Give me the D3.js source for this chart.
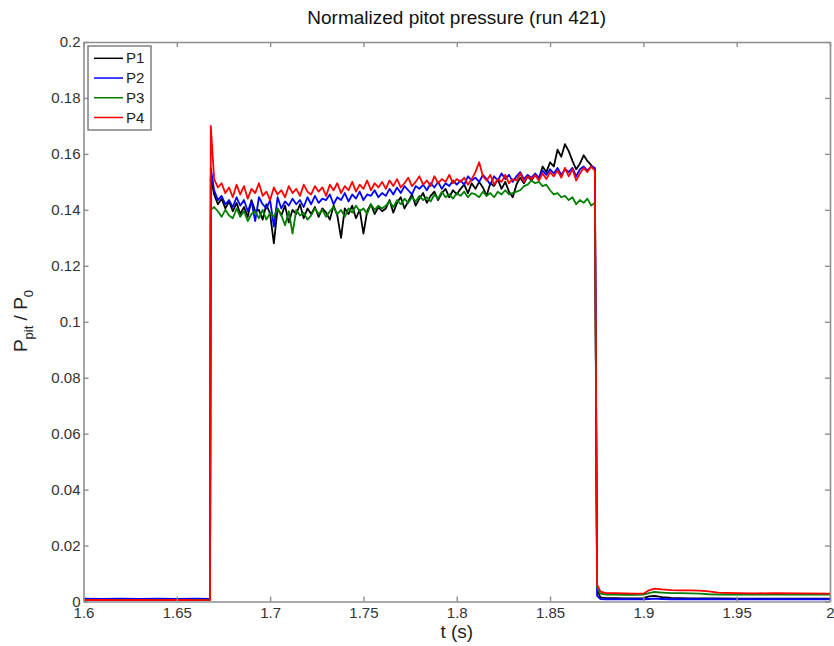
<!DOCTYPE html>
<html>
<head>
<meta charset="utf-8">
<script src="https://cdn.jsdelivr.net/npm/d3@7/dist/d3.min.js"></script>
<style>
  body { margin: 0; background: #fff; }
  text { font-family: "Liberation Sans", Arial, Helvetica, sans-serif; }
</style>
</head>
<body>
<svg id="chart" width="834" height="646"></svg>
<script>
// Sample times (s): baseline before the run, onset, steady flow, shutdown, tail
const time = [
  1.600,1.610,1.620,1.630,1.640,1.650,1.660,1.6678,
  1.6682,
  1.670,1.672,1.674,1.676,1.678,
  1.680,1.682,1.684,1.686,1.688,1.690,1.692,1.694,1.696,1.698,1.700,1.702,1.704,1.706,1.708,1.710,1.712,1.714,1.716,1.718,1.720,
  1.722,1.724,1.726,1.728,1.730,1.732,1.734,1.736,1.738,1.740,1.742,1.744,1.746,1.748,1.750,1.752,1.754,1.756,1.758,1.760,
  1.762,1.764,1.766,1.768,1.770,1.772,1.774,1.776,1.778,1.780,1.782,1.784,1.786,1.788,1.790,1.792,1.794,1.796,1.798,1.800,
  1.802,1.804,1.806,1.808,1.810,1.812,1.814,1.816,1.818,1.820,1.822,1.824,1.826,1.828,1.830,1.832,1.834,1.836,1.838,1.840,
  1.842,1.844,1.846,1.848,1.850,1.852,1.854,1.856,1.858,1.860,1.862,1.864,1.866,1.868,1.870,1.872,1.874,
  1.8752,
  1.877,1.880,1.885,1.890,1.895,1.900,1.903,1.906,1.910,1.915,1.920,1.925,1.930,1.935,1.940,1.950,1.960,1.970,1.985,2.000
];

// Normalized pitot pressure Ppit/P0 for each probe, one value per sample time
const p1 = [
  0.0008,0.0007,0.0008,0.0006,0.0007,0.0008,0.0007,0.0007,
  0.152,
  0.1455,0.142,0.144,0.1405,0.143,
  0.1395,0.1425,0.1385,0.141,0.1375,0.1435,0.1395,0.140,0.1365,0.142,0.1385,0.128,0.1405,0.138,0.1415,0.1355,0.140,0.1385,0.142,0.137,0.1405,
  0.1385,0.141,0.1375,0.1405,0.139,0.1365,0.1415,0.138,0.130,0.1405,0.1385,0.1415,0.137,0.140,0.1315,0.1395,0.142,0.1385,0.141,0.1395,
  0.1405,0.1435,0.139,0.1425,0.1445,0.1405,0.143,0.1455,0.1415,0.144,0.146,0.1425,0.145,0.1465,0.1435,0.146,0.1475,0.1445,0.147,0.1455,
  0.1475,0.149,0.146,0.1495,0.1475,0.150,0.148,0.145,0.1495,0.1485,0.151,0.1475,0.150,0.1465,0.1445,0.149,0.1515,0.1495,0.152,0.1505,
  0.1525,0.151,0.1555,0.1535,0.157,0.1555,0.1615,0.159,0.1635,0.161,0.1575,0.1545,0.1565,0.1595,0.1575,0.156,0.1545,
  0.004,
  0.0015,0.0012,0.0012,0.0011,0.0011,0.0012,0.0018,0.002,0.0016,0.0013,0.0012,0.0011,0.0011,0.0011,0.0011,0.001,0.001,0.001,0.001,0.001
];
const p2 = [
  0.001,0.0009,0.001,0.0009,0.001,0.0009,0.001,0.0009,
  0.155,
  0.147,0.1435,0.145,0.142,0.1435,
  0.141,0.1445,0.1415,0.1435,0.1395,0.143,0.136,0.1445,0.142,0.1405,0.1435,0.134,0.1445,0.1405,0.143,0.1415,0.144,0.142,0.1435,0.141,0.1445,
  0.142,0.145,0.1425,0.144,0.1435,0.1455,0.142,0.1445,0.1435,0.146,0.143,0.1455,0.144,0.1465,0.1435,0.1455,0.145,0.147,0.1445,0.146,
  0.145,0.1475,0.1455,0.148,0.146,0.1485,0.147,0.1455,0.1485,0.1475,0.149,0.147,0.1495,0.148,0.150,0.1475,0.1495,0.1485,0.1505,0.149,
  0.1505,0.149,0.152,0.1505,0.1515,0.150,0.1525,0.151,0.149,0.152,0.1505,0.153,0.151,0.1525,0.150,0.152,0.1535,0.151,0.1525,0.1515,
  0.153,0.1515,0.154,0.1525,0.1545,0.153,0.155,0.1525,0.1545,0.1535,0.155,0.152,0.1545,0.1555,0.154,0.1555,0.155,
  0.002,
  0.0009,0.0008,0.0008,0.0008,0.0008,0.0008,0.0009,0.001,0.0009,0.0008,0.0008,0.0008,0.0008,0.0008,0.0008,0.0008,0.0008,0.0008,0.0008,0.0008
];
const p3 = [
  0.0006,0.0005,0.0006,0.0005,0.0006,0.0005,0.0006,0.0005,
  0.140,
  0.141,0.1395,0.1375,0.140,0.138,
  0.137,0.1405,0.1375,0.1395,0.136,0.1385,0.1395,0.137,0.140,0.1365,0.139,0.1375,0.1405,0.138,0.1345,0.1395,0.1315,0.140,0.138,0.139,0.1365,
  0.138,0.1405,0.1385,0.140,0.1375,0.1395,0.141,0.1385,0.140,0.1375,0.1405,0.139,0.1415,0.1395,0.1405,0.1385,0.142,0.140,0.1415,0.1405,
  0.1415,0.143,0.141,0.1435,0.142,0.144,0.1425,0.1445,0.143,0.145,0.1435,0.1445,0.143,0.1455,0.144,0.1465,0.1445,0.1455,0.144,0.146,
  0.145,0.1465,0.1445,0.146,0.1455,0.1445,0.1465,0.145,0.146,0.1445,0.1465,0.1455,0.147,0.1455,0.146,0.1465,0.147,0.1485,0.149,0.1505,
  0.1495,0.150,0.1485,0.149,0.147,0.1455,0.146,0.1445,0.145,0.1435,0.1445,0.142,0.1435,0.1425,0.144,0.1415,0.1425,
  0.005,
  0.0028,0.0025,0.0025,0.0024,0.0024,0.0025,0.003,0.0034,0.0032,0.003,0.003,0.0029,0.0028,0.0026,0.0025,0.0025,0.0025,0.0025,0.0025,0.0025
];
const p4 = [
  0.0005,0.0006,0.0005,0.0006,0.0005,0.0006,0.0005,0.0006,
  0.170,
  0.151,0.148,0.1495,0.146,0.148,
  0.1445,0.149,0.1455,0.1485,0.144,0.1475,0.146,0.1495,0.145,0.1465,0.1435,0.148,0.1455,0.147,0.1445,0.1485,0.146,0.1475,0.145,0.149,0.1465,
  0.1455,0.1485,0.1465,0.148,0.145,0.149,0.147,0.1495,0.146,0.1485,0.147,0.150,0.1465,0.149,0.1475,0.1505,0.147,0.1495,0.148,0.150,
  0.1475,0.1505,0.1485,0.151,0.148,0.1495,0.1515,0.1485,0.150,0.152,0.149,0.1505,0.1485,0.152,0.1495,0.151,0.150,0.1525,0.1495,0.151,
  0.150,0.1515,0.149,0.151,0.1535,0.157,0.152,0.1505,0.1525,0.149,0.151,0.150,0.1525,0.1495,0.151,0.1505,0.153,0.150,0.152,0.151,
  0.1525,0.1505,0.153,0.151,0.1535,0.152,0.154,0.1515,0.155,0.152,0.1545,0.1505,0.153,0.155,0.1535,0.1555,0.154,
  0.006,
  0.0035,0.003,0.003,0.0029,0.0028,0.0028,0.004,0.0046,0.0043,0.0041,0.004,0.004,0.0039,0.0036,0.0032,0.003,0.0029,0.003,0.0029,0.0028
];

const seriesNames = ["P1", "P2", "P3", "P4"];
const seriesValues = [p1, p2, p3, p4];
const seriesColors = ["#000000", "#0000ff", "#008000", "#ff0000"];

const xTicks = [1.6, 1.65, 1.7, 1.75, 1.8, 1.85, 1.9, 1.95, 2.0];
const xTickLabels = ["1.6", "1.65", "1.7", "1.75", "1.8", "1.85", "1.9", "1.95", "2"];
const yTicks = [0, 0.02, 0.04, 0.06, 0.08, 0.1, 0.12, 0.14, 0.16, 0.18, 0.2];
const yTickLabels = ["0", "0.02", "0.04", "0.06", "0.08", "0.1", "0.12", "0.14", "0.16", "0.18", "0.2"];

// Layout
const plot = { left: 83.5, top: 42, right: 830, bottom: 601.5 };
const svg = d3.select("#chart");

const x = d3.scaleLinear().domain([1.6, 2.0]).range([plot.left, plot.right]);
const y = d3.scaleLinear().domain([0, 0.2]).range([plot.bottom, plot.top]);

// Traces, clipped to the axes box
svg.append("defs").append("clipPath").attr("id", "plotClip")
  .append("rect")
  .attr("x", plot.left).attr("y", plot.top)
  .attr("width", plot.right - plot.left).attr("height", plot.bottom - plot.top);

const line = d3.line()
  .x(d => x(d[0]))
  .y(d => y(d[1]));

const traces = svg.append("g").attr("clip-path", "url(#plotClip)");
seriesValues.forEach((vals, k) => {
  const pts = time.map((t, i) => [t, vals[i]]);
  traces.append("path")
    .datum(pts)
    .attr("fill", "none")
    .attr("stroke", seriesColors[k])
    .attr("stroke-width", 1.8)
    .attr("stroke-linejoin", "round")
    .attr("d", line);
});

// Axes: MATLAB-style box with inward ticks on all four sides
const axisColor = "#8f8f8f";
const labelColor = "#333333";

function styleAxis(g) {
  g.select(".domain").attr("stroke", axisColor).attr("stroke-width", 1.6);
  g.selectAll(".tick line").attr("stroke", axisColor).attr("stroke-width", 1.4);
  g.selectAll(".tick text").attr("fill", labelColor).attr("font-size", 15);
}

svg.append("g")
  .attr("transform", `translate(0,${plot.bottom})`)
  .call(d3.axisBottom(x).tickValues(xTicks).tickFormat((d, i) => xTickLabels[i])
    .tickSize(-5).tickSizeOuter(0).tickPadding(6))
  .call(styleAxis);

svg.append("g")
  .attr("transform", `translate(0,${plot.top})`)
  .call(d3.axisTop(x).tickValues(xTicks).tickFormat("").tickSize(-5).tickSizeOuter(0))
  .call(styleAxis);

svg.append("g")
  .attr("transform", `translate(${plot.left},0)`)
  .call(d3.axisLeft(y).tickValues(yTicks).tickFormat((d, i) => yTickLabels[i])
    .tickSize(-5).tickSizeOuter(0).tickPadding(3))
  .call(styleAxis);

svg.append("g")
  .attr("transform", `translate(${plot.right},0)`)
  .call(d3.axisRight(y).tickValues(yTicks).tickFormat("").tickSize(-5).tickSizeOuter(0))
  .call(styleAxis);

// Title and axis labels
svg.append("text")
  .attr("x", (plot.left + plot.right) / 2).attr("y", 24)
  .attr("text-anchor", "middle").attr("font-size", 19).attr("fill", "#111")
  .text("Normalized pitot pressure (run 421)");

svg.append("text")
  .attr("x", (plot.left + plot.right) / 2).attr("y", 638)
  .attr("text-anchor", "middle").attr("font-size", 19).attr("fill", "#222")
  .text("t (s)");

const yLabel = svg.append("text")
  .attr("transform", "translate(27,321) rotate(-90)")
  .attr("text-anchor", "middle").attr("font-size", 19).attr("fill", "#222");
yLabel.append("tspan").text("P");
yLabel.append("tspan").attr("font-size", 13).attr("dy", 6).text("pit");
yLabel.append("tspan").attr("dy", -6).text(" / P");
yLabel.append("tspan").attr("font-size", 13).attr("dy", 6).text("0");

// Legend
const legend = svg.append("g");
legend.append("rect")
  .attr("x", 88).attr("y", 46).attr("width", 63).attr("height", 84)
  .attr("fill", "#fff").attr("stroke", "#777").attr("stroke-width", 1.4);
const rowY = d3.scalePoint().domain(seriesNames).range([58.3, 117.5]);
seriesNames.forEach((name, k) => {
  const yy = rowY(name);
  legend.append("line")
    .attr("x1", 94).attr("x2", 123).attr("y1", yy).attr("y2", yy)
    .attr("stroke", seriesColors[k]).attr("stroke-width", 1.5);
  legend.append("text")
    .attr("x", 126).attr("y", yy + 5)
    .attr("font-size", 15).attr("fill", "#222")
    .text(name);
});
</script>
</body>
</html>
